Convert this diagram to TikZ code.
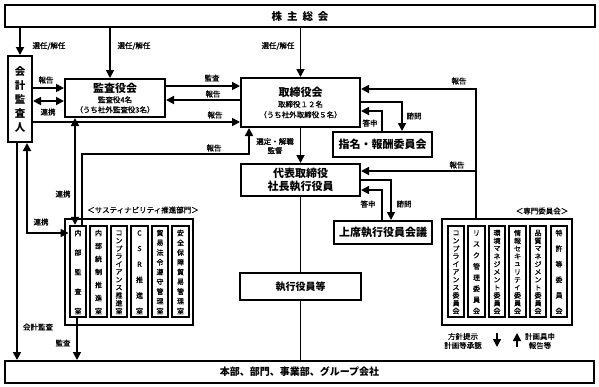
\documentclass[tikz,border=0pt]{standalone}
\usepackage{fontspec}
\setmainfont{Noto Sans CJK JP}
\newfontfamily\medfont{Noto Sans CJK JP}[FakeBold=0.9]
\usetikzlibrary{arrows.meta,calc}
\tikzset{
  box/.style={draw, line width=2pt, fill=white, inner sep=0pt, align=center},
  grpbox/.style={draw, line width=1.3pt, inner sep=0pt},
  inbox/.style={draw, line width=2.4pt, inner sep=0pt, minimum width=16.5, minimum height=91},
  vch/.style={inner sep=0pt, font=\medfont\fontsize{7}{7}\selectfont},
  lbl/.style={inner sep=0pt, font=\medfont\fontsize{7.5}{9}\selectfont, align=center},
  ttl/.style={font=\fontsize{11}{14}\selectfont\bfseries},
  conn/.style={line width=1.7pt},
  arr/.style={conn, -{Triangle[length=8pt,width=8pt]}},
  darr/.style={conn, {Triangle[length=8pt,width=8pt]}-{Triangle[length=8pt,width=8pt]}},
}
\newcommand\tatebox[4]{%
  \node[inbox] (#1) at (#2,271.5) {};
  \foreach \tch [count=\ti] in {#4} {
    \node[vch] (#1-\ti) at ({#2},{233+(\ti-1)*78/(#3-1)}) {\tch};
  }
}
\begin{document}
\begin{tikzpicture}[x=1pt,y=-1pt]
\path[fill=white,use as bounding box] (0,0) rectangle (599,386);

% main boxes
\node[box, minimum width=590, minimum height=22, font=\fontsize{10.5}{12}\selectfont\bfseries] (top) at (300,16) {株\hspace{5pt}主\hspace{5pt}総\hspace{5pt}会};
\node[box, minimum width=24, minimum height=86, font=\fontsize{10.5}{14}\selectfont\bfseries] (kaikei) at (20,99) {会\\計\\監\\査\\人};
\node[box, minimum width=100, minimum height=38, font=\medfont\fontsize{7.5}{10}\selectfont] (kansa) at (115,98)
  {{\normalfont\fontsize{11}{12}\selectfont\bfseries 監査役会}\\[0.5pt]監査役4名\\（うち社外監査役3名）};
\node[box, minimum width=119, minimum height=49, font=\medfont\fontsize{7.5}{10.5}\selectfont] (tori) at (300.5,102.5)
  {{\normalfont\fontsize{11}{12}\selectfont\bfseries 取締役会}\\[0.5pt]取締役１２名\\（うち社外取締役５名）};
\node[box, minimum width=119, minimum height=32, ttl] (daihyo) at (300.5,180) {代表取締役\\[-1pt]社長執行役員};
\node[box, minimum width=99, minimum height=25, ttl] (shimei) at (382.5,144.5) {指名・報酬委員会};
\node[box, minimum width=98, minimum height=23, ttl] (joseki) at (383,232.5) {上席執行役員会議};
\node[box, minimum width=121, minimum height=27, font=\fontsize{10}{12}\selectfont\bfseries] (shikko) at (300.5,286.5) {執行役員等};
\node[box, minimum width=589, minimum height=22, font=\fontsize{10}{12}\selectfont\bfseries] (bottom) at (299.5,372) {本部、部門、事業部、グループ会社};

% groups
\node[grpbox, minimum width=128, minimum height=106] (susgrp) at (129,272) {};
\node[lbl] (suslbl) at (143,210) {＜サスティナビリティ推進部門＞};
\node[grpbox, minimum width=130, minimum height=106] (sengrp) at (507,272) {};
\node[lbl] (senlbl) at (542,211) {＜専門委員会＞};

\tatebox{s1}{78}{5}{内,部,監,査,室}
\tatebox{s2}{98.5}{7}{内,部,統,制,推,進,室}
\tatebox{s3}{119}{11}{コ,ン,プ,ラ,イ,ア,ン,ス,推,進,室}
\tatebox{s4}{139.5}{6}{C,S,R,推,進,室}
\tatebox{s5}{160}{9}{貿,易,法,令,遵,守,管,理,室}
\tatebox{s6}{180.5}{9}{安,全,保,障,貿,易,管,理,室}

\tatebox{c1}{456}{11}{コ,ン,プ,ラ,イ,ア,ン,ス,委,員,会}
\tatebox{c2}{476.5}{8}{リ,ス,ク,管,理,委,員,会}
\tatebox{c3}{497}{11}{環,境,マ,ネ,ジ,メ,ン,ト,委,員,会}
\tatebox{c4}{517.5}{11}{情,報,セ,キ,ュ,リ,テ,ィ,委,員,会}
\tatebox{c5}{538}{11}{品,質,マ,ネ,ジ,メ,ン,ト,委,員,会}
\tatebox{c6}{559}{6}{特,許,等,委,員,会}

% election arrows from shareholders
\draw[arr] (top.south -| kaikei.north) -- (kaikei.north);
\coordinate (kn) at ([xshift=-5pt]kansa.north);
\draw[arr] (top.south -| kn) -- (kn);
\draw[arr] (top.south -| tori.north) -- (tori.north);
\node[lbl] (l1) at (49,46) {選任/解任};
\node[lbl] (l2) at (134,46) {選任/解任};
\node[lbl] (l3) at (278,46) {選任/解任};

% kaikei <-> kansa
\coordinate (k1) at ([yshift=10pt]kansa.west);
\draw[arr] (k1 -| kaikei.east) -- (k1);
\coordinate (k2) at ([yshift=-3pt]kansa.west);
\draw[darr] (k2 -| kaikei.east) -- (k2);
\node[lbl] (l4) at (46,80) {報告};
\node[lbl] (l5) at (48,112) {連携};

% kaikei -> tori
\coordinate (t1) at ([yshift=-19.5pt]tori.west);
\draw[arr] (t1 -| kaikei.east) -- (t1);
\node[lbl] (l6) at (215,115) {報告};

% kansa <-> tori
\coordinate (k3) at ([yshift=12pt]kansa.east);
\draw[arr] (k3) -- (k3 -| tori.west);
\coordinate (k4) at ([yshift=-2pt]kansa.east);
\draw[arr] (k4 -| tori.west) -- (k4);
\node[lbl] (l7) at (212,78) {監査};
\node[lbl] (l8) at (213,94) {報告};

% naibu kansa links
\coordinate (n1) at ([xshift=-3pt]s1.north);
\draw[darr] (n1 |- kansa.south) -- (n1);
\node[lbl] (l9) at (63,194) {連携};
\coordinate (n2) at ([xshift=4pt]s1.north);
\draw[arr] (n2) -- ++(0,-71) -| ([xshift=9pt]tori.south west);
\node[lbl] (l10) at (214,148) {報告};

% kaikei lower lines
\coordinate (kb1) at ([xshift=-3pt]kaikei.south);
\draw[arr] (kb1) -- (kb1 |- bottom.north);
\node[lbl] (l11) at (38,327) {会計監査};
\coordinate (kb2) at ([xshift=7pt]kaikei.south);
\draw[darr] (kb2) |- ([yshift=38.5pt]s1.west);
\node[lbl] (l12) at (41,222) {連携};

% naibu -> bottom
\coordinate (n3) at ([xshift=-1pt]s1.south);
\draw[arr] (n3) -- (n3 |- bottom.north);
\node[lbl] (l13) at (63,343) {監査};

% tori -> daihyo
\draw[arr] (tori.south) -- (daihyo.north);
\node[lbl] (l14) at (275,146) {選定・解職\\監督};

% tori <-> shimei
\draw[arr] ([yshift=0.5pt]tori.east) -| ([xshift=19.5pt]shimei.north);
\draw[arr] ([xshift=-0.5pt]shimei.north) |- ([yshift=-8.5pt]tori.east);
\node[lbl] (l15) at (414,116) {諮問};
\node[lbl] (l16) at (370,123) {答申};

% senmon reports
\coordinate (rp) at ([xshift=-31pt]sengrp.north);
\draw[arr] (rp) |- ([yshift=13.5pt]tori.east);
\coordinate (d9) at ([yshift=9pt]daihyo.east);
\draw[arr] (d9 -| rp) -- (d9);
\node[lbl] (l17) at (459,81) {報告};
\node[lbl] (l18) at (457,165) {報告};

% daihyo <-> joseki
\draw[arr] (daihyo.east) -| ([xshift=8pt]joseki.north);
\draw[arr] ([xshift=-1pt]joseki.north) |- ([yshift=-10pt]daihyo.east);
\node[lbl] (l19) at (404,204) {諮問};
\node[lbl] (l20) at (368,204) {答申};

% executive chain
\draw[conn] (daihyo.south) -- (shikko.north);
\draw[conn] (shikko.south) -- (shikko.south |- bottom.north);

% policy arrows
\coordinate (pa1) at (497,333);
\coordinate (pa2) at (497,347);
\coordinate (pb1) at (517,347);
\coordinate (pb2) at (517,333);
\draw[arr] (pa1) -- (pa2);
\draw[arr] (pb1) -- (pb2);
\node[lbl] (l21) at (463,341) {方針提示\\計画等承認};
\node[lbl] (l22) at (540,341) {計画具申\\報告等};
\end{tikzpicture}
\end{document}
